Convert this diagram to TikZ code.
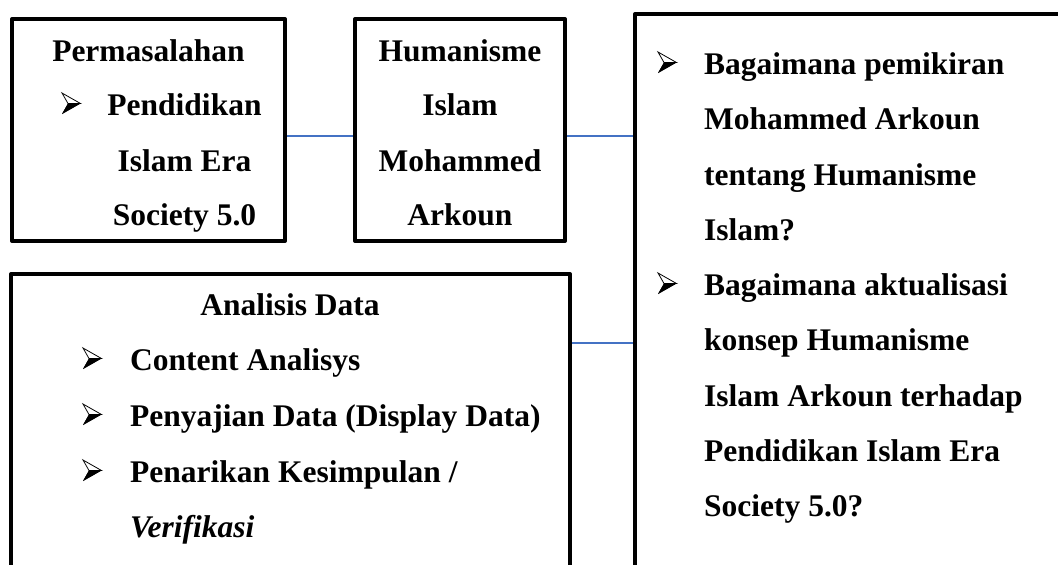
\documentclass[tikz,border=0pt]{standalone}
\usepackage{fontspec}
\setmainfont{Liberation Serif}
\definecolor{connblue}{HTML}{4472C4}
\tikzset{
  box/.style={draw, line width=4pt, line join=round, rectangle, inner sep=0pt},
  conn/.style={draw=connblue, line width=1.5pt},
  txt/.style={font=\fontsize{31.5}{56}\selectfont\bfseries, anchor=base west, inner sep=0pt},
  txtc/.style={txt, anchor=base},
  arrowbul/.pic={
    \fill[black] (0,0) -- (18.5,-10.5) -- (6,-10.5) -- cycle;
    \draw[black, line width=0.8pt, line join=miter] (0,-21) -- (18.5,-10.5) -- (6,-10.5) -- cycle;
    \fill[black] (0,0) -- (18.5,-10.5) -- (6,-10.5) -- cycle;
  },
}
\begin{document}
\begin{tikzpicture}[x=1pt,y=-1pt]
\clip (0,0) rectangle (1058,565);
% boxes
\node[box, minimum width=273pt, minimum height=222pt] (b1) at (148.5,130) {};
\node[box, minimum width=210pt, minimum height=222pt] (b2) at (460,130) {};
\node[box, minimum width=440pt, minimum height=576pt] (b3) at (855,302) {};
\node[box, minimum width=559pt, minimum height=316pt] (b4) at (290.5,432) {};
% connectors
\coordinate (ya) at (0,136);
\coordinate (yb) at (0,343);
\draw[conn] (b1.east |- ya) -- (b2.west |- ya);
\draw[conn] (b2.east |- ya) -- (b3.west |- ya);
\draw[conn] (b4.east |- yb) -- (b3.west |- yb);
% box 1 text
\node[txtc] (t11) at (148.5,61) {Permasalahan};
\pic at (62,114) {arrowbul};
\node[txtc] (t12) at (184.5,115) {Pendidikan};
\node[txtc] (t13) at (184.5,171) {Islam Era};
\node[txtc] (t14) at (184.5,225) {Society 5.0};
% box 2 text
\node[txtc] (t21) at (460,61) {Humanisme};
\node[txtc] (t22) at (460,115) {Islam};
\node[txtc] (t23) at (460,171) {Mohammed};
\node[txtc] (t24) at (460,225) {Arkoun};
% box 3 text
\pic at (658,73) {arrowbul};
\node[txt] (t31) at (704,74) {Bagaimana pemikiran};
\node[txt] (t32) at (704,129.5) {Mohammed Arkoun};
\node[txt] (t33) at (704,185) {tentang Humanisme};
\node[txt] (t34) at (704,240) {Islam?};
\pic at (658,294) {arrowbul};
\node[txt] (t35) at (704,295) {Bagaimana aktualisasi};
\node[txt] (t36) at (704,350) {konsep Humanisme};
\node[txt] (t37) at (704,406) {Islam Arkoun terhadap};
\node[txt] (t38) at (704,461) {Pendidikan Islam Era};
\node[txt] (t39) at (704,516) {Society 5.0?};
% box 4 text
\node[txtc] (t41) at (290,315) {Analisis Data};
\pic at (83,369) {arrowbul};
\node[txt] (t42) at (130,370) {Content Analisys};
\pic at (83,425) {arrowbul};
\node[txt] (t43) at (130,426) {Penyajian Data (Display Data)};
\pic at (83,481) {arrowbul};
\node[txt] (t44) at (130,482) {Penarikan Kesimpulan /};
\node[txt, font=\fontsize{31.5}{56}\selectfont\bfseries\itshape] (t45) at (130,537) {Verifikasi};
\end{tikzpicture}
\end{document}
